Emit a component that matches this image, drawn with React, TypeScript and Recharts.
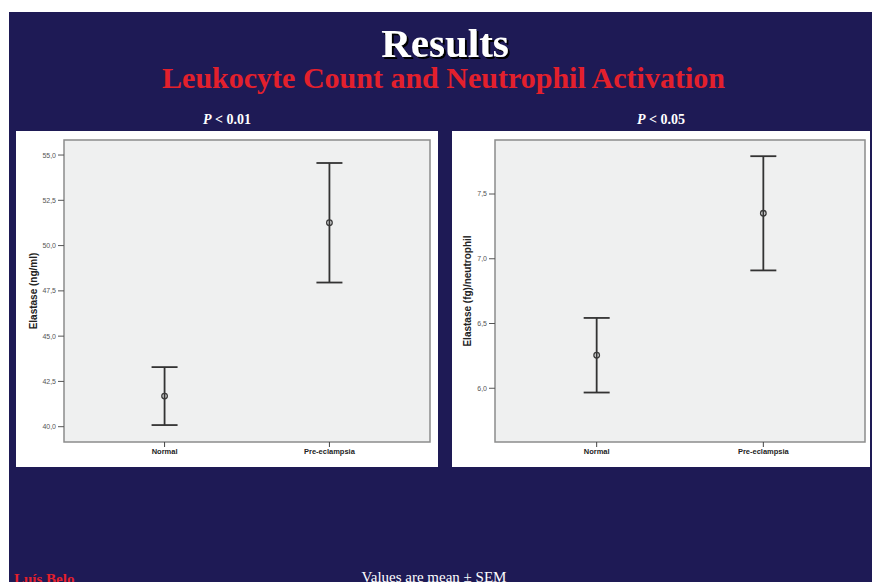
import React from 'react';
import { ComposedChart, Line, ErrorBar, XAxis, YAxis, ReferenceArea } from 'recharts';

const categories = ['Normal', 'Pre-eclampsia'];

const elastaseMean = [41.69, 51.26];
const elastaseSem = [1.6, 3.3];
const elastaseTicks = [40, 42.5, 45, 47.5, 50, 52.5, 55];
const elastaseDomain = [39.155, 55.83];

const perNeutrophilMean = [6.255, 7.351];
const perNeutrophilSem = [0.288, 0.441];
const perNeutrophilTicks = [6.0, 6.5, 7.0, 7.5];
const perNeutrophilDomain = [5.585, 7.917];

const xDomain = [-0.61, 1.61];

const NAVY = '#1e1a55';
const RED = '#e3202c';
const SANS = '"Liberation Sans", Arial, sans-serif';
const SERIF = '"Liberation Serif", "Times New Roman", serif';

const fmt = (v: number) => v.toFixed(1).replace('.', ',');

const Dot = (props: any) => {
  const { cx, cy, index } = props;
  if (cx == null || cy == null) return null;
  return <circle key={`d${index}`} cx={cx} cy={cy} r={2.8} fill="none" stroke="#3a3a3a" strokeWidth={1.3} />;
};

type PanelProps = {
  means: number[];
  sems: number[];
  ticks: number[];
  domain: number[];
  label: string;
  width: number;
  height: number;
  marginRight: number;
  yWidth: number;
  labelOffset: number;
};

function Panel({ means, sems, ticks, domain, label, width, height, marginRight, yWidth, labelOffset }: PanelProps) {
  const data = categories.map((c, i) => ({ x: i, name: c, mean: means[i], sem: sems[i] }));
  return (
    <ComposedChart
      width={width}
      height={height}
      data={data}
      margin={{ top: 9, right: marginRight, bottom: 5, left: 0 }}
      style={{ background: '#ffffff' }}
    >
      <XAxis
        type="number"
        dataKey="x"
        domain={xDomain}
        ticks={[0, 1]}
        allowDataOverflow
        tickFormatter={(v: number) => categories[v] ?? ''}
        axisLine={false}
        tickLine={{ stroke: '#444' }}
        tickSize={5}
        tickMargin={2}
        height={20}
        tick={{ fontSize: 7.5, fontWeight: 'bold', fill: '#222', fontFamily: SANS }}
      />
      <YAxis
        type="number"
        domain={domain}
        ticks={ticks}
        allowDataOverflow
        tickFormatter={fmt}
        axisLine={false}
        tickLine={{ stroke: '#555' }}
        tickSize={6}
        tickMargin={2}
        width={yWidth}
        tick={{ fontSize: 7, fill: '#555', fontFamily: SANS }}
        label={{
          value: label,
          angle: -90,
          position: 'insideLeft',
          offset: labelOffset,
          style: { textAnchor: 'middle', fontSize: 10, fontWeight: 'bold', fill: '#222', fontFamily: SANS },
        }}
      />
      <ReferenceArea
        x1={xDomain[0]}
        x2={xDomain[1]}
        y1={domain[0]}
        y2={domain[1]}
        fill="#eff0f0"
        fillOpacity={1}
        stroke="#8c8c8c"
        strokeWidth={1.5}
        ifOverflow="visible"
      />
      <Line
        dataKey="mean"
        stroke="none"
        isAnimationActive={false}
        dot={Dot}
        activeDot={false}
        legendType="none"
      >
        <ErrorBar dataKey="sem" direction="y" width={13} stroke="#333" strokeWidth={1.8} isAnimationActive={false} />
      </Line>
    </ComposedChart>
  );
}

export default function App() {
  return (
    <div style={{ position: 'absolute', left: 0, top: 0, width: 872, height: 582, background: '#fff', overflow: 'hidden' }}>
      <div style={{ position: 'absolute', left: 9, top: 12, width: 863, height: 570, background: NAVY }} />
      <svg width={872} height={582} style={{ position: 'absolute', left: 0, top: 0 }}>
        <defs>
          <filter id="titleShadow" x="-10%" y="-10%" width="130%" height="140%">
            <feDropShadow dx={2} dy={2} stdDeviation={0.4} floodColor="#000" floodOpacity={1} />
          </filter>
        </defs>
        <text x={445} y={56.7} textAnchor="middle" fontFamily={SERIF} fontWeight="bold" fontSize={41} fill="#fff" filter="url(#titleShadow)">Results</text>
        <text x={443.5} y={88.3} textAnchor="middle" fontFamily={SERIF} fontWeight="bold" fontSize={30} fill={RED}>Leukocyte Count and Neutrophil Activation</text>
        <text x={227} y={124.3} textAnchor="middle" fontFamily={SERIF} fontWeight="bold" fontSize={14} fill="#fff">
          <tspan fontStyle="italic">P</tspan> &lt; 0.01
        </text>
        <text x={661} y={124.3} textAnchor="middle" fontFamily={SERIF} fontWeight="bold" fontSize={14} fill="#fff">
          <tspan fontStyle="italic">P</tspan> &lt; 0.05
        </text>
        <text x={14} y={583.5} fontFamily={SERIF} fontWeight="bold" fontSize={15} fill={RED}>Luís Belo</text>
        <text x={434} y={582} textAnchor="middle" fontFamily={SERIF} fontSize={15} fill="#fff">Values are mean ± SEM</text>
      </svg>
      <div style={{ position: 'absolute', left: 16, top: 131 }}>
        <Panel
          means={elastaseMean}
          sems={elastaseSem}
          ticks={elastaseTicks}
          domain={elastaseDomain}
          label="Elastase (ng/ml)"
          width={422}
          height={336}
          marginRight={8}
          yWidth={48}
          labelOffset={17}
        />
      </div>
      <div style={{ position: 'absolute', left: 452, top: 131 }}>
        <Panel
          means={perNeutrophilMean}
          sems={perNeutrophilSem}
          ticks={perNeutrophilTicks}
          domain={perNeutrophilDomain}
          label="Elastase (fg)/neutrophil"
          width={418}
          height={336}
          marginRight={5}
          yWidth={43}
          labelOffset={15}
        />
      </div>
    </div>
  );
}
